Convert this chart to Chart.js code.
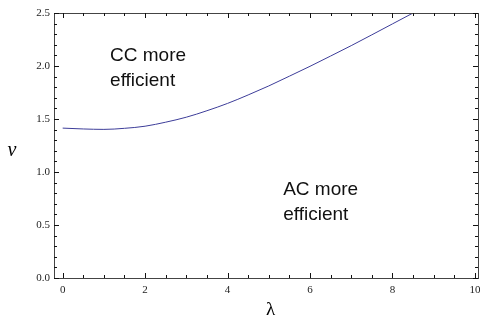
<!DOCTYPE html>
<html>
<head>
<meta charset="utf-8">
<script src="https://cdn.jsdelivr.net/npm/chart.js@4"></script>
<style>
  html, body { margin: 0; padding: 0; background: #fff; }
  #wrap { width: 480px; height: 320px; }
</style>
</head>
<body>
<div id="wrap"><canvas id="c" width="480" height="320"></canvas></div>
<script>
// curve ν(λ)
const lambdaVals = [0, 0.5, 1, 1.5, 2, 2.5, 3, 3.5, 4, 4.5, 5, 5.5, 6, 6.5, 7, 7.5, 8, 8.5];
const nuVals = [1.414, 1.406, 1.402, 1.412, 1.432, 1.47, 1.517, 1.578, 1.647, 1.727, 1.812, 1.904, 1.997, 2.094, 2.192, 2.294, 2.397, 2.5];

// major tick labels
const xTicks = [0, 2, 4, 6, 8, 10];
const yTicks = [0, 0.5, 1, 1.5, 2, 2.5];

// region labels (position in data units)
const notes = [
  { lines: ['CC more', 'efficient'], x: 1.15, y: 2.05 },
  { lines: ['AC more', 'efficient'], x: 5.35, y: 0.78 }
];

const points = lambdaVals.map((l, i) => ({ x: l, y: nuVals[i] }));

// frame, inward ticks, axis titles and notes
const framePlugin = {
  id: 'frame',
  afterDraw(chart) {
    const ctx = chart.ctx;
    const a = chart.chartArea;
    const xs = chart.scales.x, ys = chart.scales.y;
    ctx.save();
    ctx.strokeStyle = '#444';
    ctx.lineWidth = 1;
    ctx.strokeRect(a.left + 0.5, a.top + 0.5, a.right - a.left - 1, a.bottom - a.top);

    ctx.strokeStyle = '#111';
    ctx.beginPath();
    // x ticks, minor every 0.5
    for (let v = 0; v <= 10.001; v += 0.5) {
      const px = Math.round(xs.getPixelForValue(v)) + 0.5;
      const len = Math.abs(v % 2) < 0.01 ? 5 : 3;
      ctx.moveTo(px, a.bottom); ctx.lineTo(px, a.bottom - len);
      ctx.moveTo(px, a.top); ctx.lineTo(px, a.top + len);
    }
    // y ticks, minor every 0.1
    for (let i = 0; i <= 25; i++) {
      const v = i / 10;
      const py = Math.round(ys.getPixelForValue(v)) + 0.5;
      const len = i % 5 === 0 ? 5 : 3;
      ctx.moveTo(a.left, py); ctx.lineTo(a.left + len, py);
      ctx.moveTo(a.right - 1, py); ctx.lineTo(a.right - 1 - len, py);
    }
    ctx.stroke();

    // axis titles
    ctx.fillStyle = '#000';
    ctx.textAlign = 'center';
    ctx.textBaseline = 'alphabetic';
    ctx.font = '19px "Liberation Serif"';
    ctx.fillText('λ', (a.left + a.right) / 2 + 4, 315);
    ctx.font = 'italic 20px "Liberation Serif"';
    ctx.fillText('ν', 12, 156);

    // region notes
    ctx.textAlign = 'left';
    ctx.font = '19px "Liberation Sans"';
    ctx.fillStyle = '#111';
    notes.forEach(n => {
      const px = xs.getPixelForValue(n.x);
      const py = ys.getPixelForValue(n.y);
      n.lines.forEach((t, k) => ctx.fillText(t, px, py + k * 25));
    });
    ctx.restore();
  }
};

new Chart(document.getElementById('c'), {
  type: 'scatter',
  data: {
    datasets: [{
      data: points,
      showLine: true,
      borderColor: '#3d3d99',
      borderWidth: 1,
      pointRadius: 0,
      cubicInterpolationMode: 'monotone'
    }]
  },
  options: {
    responsive: false,
    animation: false,
    layout: { padding: { top: 13, right: 1, left: 0, bottom: 0 } },
    plugins: { legend: { display: false }, tooltip: { enabled: false } },
    scales: {
      x: {
        type: 'linear',
        min: -0.21,
        max: 10.1,
        afterBuildTicks: s => { s.ticks = xTicks.map(v => ({ value: v })); },
        afterFit: s => { s.height = 42; s.paddingLeft = 0; s.paddingRight = 0; },
        grid: { display: false, drawTicks: false },
        border: { display: false },
        ticks: {
          padding: 6,
          color: '#222',
          font: { family: 'Liberation Serif', size: 11 },
          maxRotation: 0,
          callback: v => String(v)
        }
      },
      y: {
        type: 'linear',
        min: 0,
        max: 2.5,
        afterBuildTicks: s => { s.ticks = yTicks.map(v => ({ value: v })); },
        afterFit: s => { s.width = 54; s.paddingTop = 0; s.paddingBottom = 0; },
        grid: { display: false, drawTicks: false },
        border: { display: false },
        ticks: {
          padding: 4,
          color: '#222',
          font: { family: 'Liberation Serif', size: 11 },
          callback: v => v.toFixed(1)
        }
      }
    }
  },
  plugins: [framePlugin]
});
</script>
</body>
</html>
